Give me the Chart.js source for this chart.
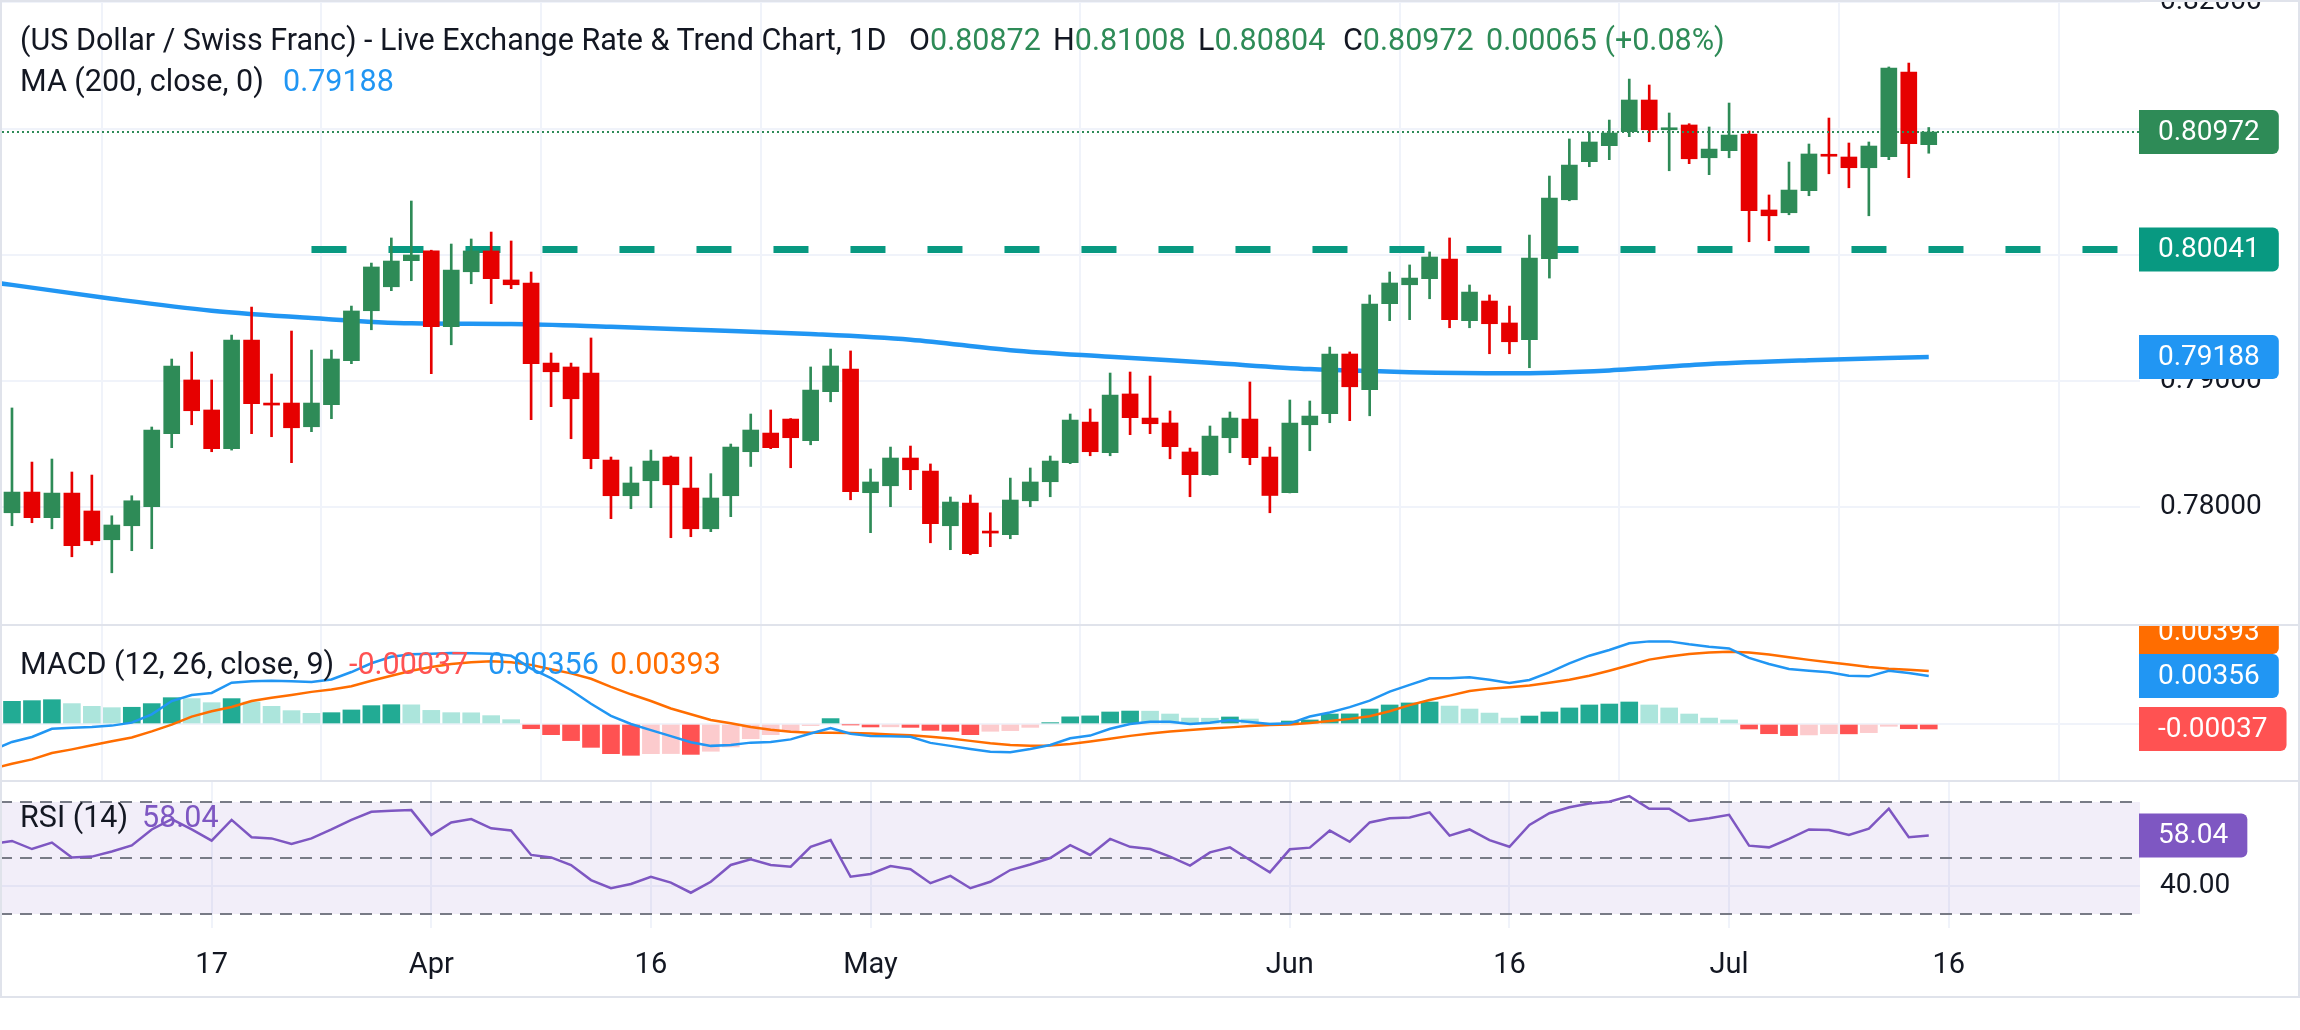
<!DOCTYPE html>
<html><head><meta charset="utf-8">
<script src="https://cdn.jsdelivr.net/npm/chart.js@4.4.1/dist/chart.umd.min.js"></script>
<style>
html,body{margin:0;padding:0;background:#fff;}
body{width:2300px;height:1030px;position:relative;overflow:hidden;font-family:Roboto,sans-serif;}
.pane{position:absolute;left:0;width:2300px;}
.lg{position:absolute;white-space:nowrap;font-size:30.5px;line-height:30px;color:#131722;z-index:5;}
.sep{position:absolute;background:#e0e3eb;z-index:4;}
.gv{color:#2e8b57}
</style></head><body>
<div class="pane" style="top:0;height:626px"><canvas id="cMain"></canvas></div>
<div class="pane" style="top:626px;height:155px"><canvas id="cMacd"></canvas></div>
<div class="pane" style="top:782px;height:215px"><canvas id="cRsi"></canvas></div>

<div class="sep" style="left:0;top:0;width:2300px;height:2px"></div>
<div class="sep" style="left:0;top:624px;width:2300px;height:2px"></div>
<div class="sep" style="left:0;top:780px;width:2300px;height:2px"></div>
<div class="sep" style="left:0;top:996px;width:2300px;height:2px"></div>
<div class="sep" style="left:0;top:0;width:2px;height:998px"></div>
<div class="sep" style="left:2298px;top:0;width:2px;height:998px"></div>

<div class="lg" style="left:20px;top:25px">(US Dollar / Swiss Franc) - Live Exchange Rate &amp; Trend Chart, 1D</div>
<div class="lg" style="left:909px;top:25px">O<span class="gv">0.80872</span></div>
<div class="lg" style="left:1053px;top:25px">H<span class="gv">0.81008</span></div>
<div class="lg" style="left:1198px;top:25px">L<span class="gv">0.80804</span></div>
<div class="lg" style="left:1343px;top:25px">C<span class="gv">0.80972</span></div>
<div class="lg gv" style="left:1486px;top:25px">0.00065 (+0.08%)</div>
<div class="lg" style="left:20px;top:66px">MA (200, close, 0)</div>
<div class="lg" style="left:283px;top:66px;color:#2196f3">0.79188</div>
<div class="lg" style="left:20px;top:649px">MACD (12, 26, close, 9)</div>
<div class="lg" style="left:349px;top:649px;color:#ff5252">-0.00037</div>
<div class="lg" style="left:488px;top:649px;color:#2196f3">0.00356</div>
<div class="lg" style="left:610px;top:649px;color:#ff6d00">0.00393</div>
<div class="lg" style="left:20px;top:802px">RSI (14)</div>
<div class="lg" style="left:142px;top:802px;color:#7e57c2">58.04</div>

<script>
// ---------- DATA ----------
const openP=[.77953,.78117,.77914,.78109,.77967,.77739,.77850,.78001,.78580,.79006,
.78768,.78461,.79323,.78822,.78823,.78635,.78810,.79159,.79555,.79745,
.79952,.80029,.79428,.79864,.80029,.79799,.79775,.79140,.79109,.79061,
.78371,.78088,.78207,.78395,.78149,.77826,.78088,.78437,.78585,.78696,
.78524,.78913,.79093,.78112,.78167,.78387,.78284,.77850,.78030,.77800,
.77779,.78048,.78199,.78350,.78672,.78429,.78895,.78704,.78665,.78435,
.78255,.78548,.78696,.78395,.78112,.78651,.78738,.79212,.78929,.79611,
.79761,.79809,.79965,.79476,.79632,.79458,.79325,.79967,.80435,.80737,
.80864,.80975,.81226,.80990,.81028,.80768,.80824,.80956,.80354,.80332,
.80507,.80790,.80774,.80689,.80776,.81448,.80872];
const highP=[.78784,.78355,.78379,.78276,.78252,.77929,.78088,.78633,.79172,.79228,
.79006,.79362,.79584,.79053,.79394,.79243,.79243,.79592,.79933,.80132,
.80425,.80035,.80084,.80124,.80179,.80108,.79862,.79220,.79140,.79339,
.78395,.78316,.78450,.78403,.78395,.78263,.78498,.78736,.78768,.78700,
.79109,.79251,.79236,.78300,.78474,.78482,.78340,.78078,.78094,.77953,
.78228,.78308,.78403,.78736,.78776,.79061,.79069,.79037,.78760,.78466,
.78641,.78752,.78990,.78474,.78847,.78839,.79267,.79228,.79680,.79862,
.79918,.80021,.80132,.79759,.79680,.79592,.80155,.80623,.80917,.80972,
.81067,.81392,.81345,.81123,.81038,.81012,.81202,.80980,.80473,.80734,
.80877,.81083,.80885,.80893,.81488,.81519,.81008];
const lowP=[.77850,.77874,.77826,.77604,.77699,.77477,.77652,.77668,.78469,.78651,
.78437,.78450,.78580,.78556,.78350,.78596,.78699,.79135,.79404,.79714,
.79793,.79056,.79285,.79769,.79611,.79730,.78691,.78794,.78540,.78302,
.77906,.77985,.77993,.77755,.77763,.77803,.77922,.78320,.78461,.78310,
.78492,.78833,.78056,.77795,.78001,.78136,.77715,.77660,.77620,.77684,
.77747,.78001,.78080,.78342,.78405,.78405,.78572,.78580,.78381,.78080,
.78250,.78429,.78334,.77953,.78110,.78445,.78667,.78683,.78722,.79476,
.79484,.79650,.79420,.79420,.79214,.79214,.79103,.79814,.80427,.80697,
.80753,.80935,.80895,.80665,.80721,.80634,.80768,.80102,.80110,.80316,
.80467,.80641,.80530,.80308,.80753,.80610,.80804];
const closeP=[.78117,.77914,.78109,.77692,.77731,.77856,.78048,.78609,.79117,.78762,
.78461,.79323,.78818,.78807,.78627,.78823,.79172,.79553,.79902,.79949,
.79997,.79428,.79878,.80029,.79809,.79761,.79135,.79071,.78857,.78381,
.78088,.78189,.78363,.78175,.77826,.78070,.78474,.78609,.78469,.78548,
.78926,.79117,.78120,.78197,.78387,.78294,.77866,.78038,.77628,.77792,
.78054,.78197,.78363,.78688,.78437,.78887,.78707,.78659,.78477,.78255,
.78561,.78704,.78390,.78090,.78665,.78720,.79212,.78952,.79608,.79775,
.79814,.79981,.79484,.79703,.79452,.79309,.79973,.80449,.80710,.80893,
.80964,.81226,.80990,.81000,.80760,.80837,.80948,.80348,.80308,.80512,
.80798,.80780,.80689,.80861,.81480,.80880,.80972];

const maIdx=[-1,0,5,10,15,20,25,30,35,40,45,50,55,60,65,70,75,80,85,90,96];
const maVal=[.79780,.79760,.79650,.79555,.79497,.79455,.79450,.79428,.79400,.79370,.79325,.79242,.79190,.79142,.79092,.79068,.79059,.79082,.79132,.79162,.79188];

const supportLevel=0.80041, supportFrom=15;

const LINE_START=-1; // first index of macdLine / signalLine / rsi
const macdLine=[-0.00195,
-0.00133,-0.00096,-0.00035,-0.00027,-0.00022,-0.00012,0.00010,0.00072,0.00170,0.00215,
0.00230,0.00306,0.00316,0.00321,0.00316,0.00311,0.00330,0.00385,0.00450,0.00498,
0.00516,0.00520,0.00526,0.00524,0.00520,0.00505,0.00410,0.00340,0.00250,0.00150,
0.00060,0.00000,-0.00045,-0.00090,-0.00135,-0.00162,-0.00155,-0.00138,-0.00133,-0.00114,
-0.00070,-0.00030,-0.00072,-0.00089,-0.00090,-0.00095,-0.00140,-0.00162,-0.00185,-0.00205,
-0.00210,-0.00185,-0.00155,-0.00106,-0.00086,-0.00035,0.00000,0.00017,0.00017,0.00000,
0.00010,0.00030,0.00014,0.00000,0.00005,0.00055,0.00085,0.00125,0.00173,0.00240,
0.00290,0.00338,0.00338,0.00346,0.00328,0.00304,0.00326,0.00383,0.00449,0.00506,
0.00548,0.00598,0.00612,0.00612,0.00590,0.00573,0.00560,0.00490,0.00444,0.00407,
0.00395,0.00383,0.00358,0.00353,0.00395,0.00378,0.00356];
const signalLine=[-0.00330,
-0.00295,-0.00262,-0.00215,-0.00188,-0.00158,-0.00128,-0.00100,-0.00055,-0.00005,0.00055,
0.00095,0.00126,0.00170,0.00195,0.00215,0.00238,0.00255,0.00280,0.00320,0.00358,
0.00395,0.00422,0.00445,0.00458,0.00464,0.00458,0.00438,0.00405,0.00375,0.00335,
0.00275,0.00220,0.00170,0.00115,0.00072,0.00030,0.00005,-0.00022,-0.00042,-0.00057,
-0.00064,-0.00064,-0.00066,-0.00070,-0.00078,-0.00084,-0.00095,-0.00108,-0.00125,-0.00142,
-0.00155,-0.00162,-0.00160,-0.00148,-0.00130,-0.00110,-0.00088,-0.00070,-0.00055,-0.00044,
-0.00033,-0.00025,-0.00015,-0.00008,-0.00003,0.00007,0.00022,0.00038,0.00058,0.00095,
0.00140,0.00178,0.00210,0.00245,0.00262,0.00272,0.00285,0.00305,0.00328,0.00358,
0.00395,0.00435,0.00477,0.00500,0.00519,0.00530,0.00536,0.00530,0.00515,0.00494,
0.00475,0.00457,0.00440,0.00422,0.00410,0.00402,0.00393];
const macdHist=[0.00168,0.00173,0.00180,0.00151,0.00131,0.00121,0.00124,0.00151,0.00195,0.00188,
0.00158,0.00188,0.00163,0.00131,0.00099,0.00079,0.00084,0.00104,0.00136,0.00143,
0.00142,0.00101,0.00084,0.00083,0.00062,0.00032,-0.00035,-0.00079,-0.00123,-0.00173,
-0.00220,-0.00232,-0.00220,-0.00219,-0.00225,-0.00202,-0.00170,-0.00109,-0.00079,-0.00054,
-0.00012,0.00040,-0.00005,-0.00022,-0.00021,-0.00025,-0.00047,-0.00054,-0.00079,-0.00054,
-0.00049,-0.00025,0.00010,0.00053,0.00060,0.00089,0.00096,0.00095,0.00074,0.00044,
0.00043,0.00052,0.00037,0.00005,0.00022,0.00030,0.00074,0.00075,0.00111,0.00141,
0.00156,0.00163,0.00133,0.00111,0.00081,0.00044,0.00059,0.00089,0.00119,0.00141,
0.00148,0.00163,0.00141,0.00119,0.00074,0.00044,0.00030,-0.00037,-0.00072,-0.00086,
-0.00081,-0.00072,-0.00073,-0.00064,-0.00017,-0.00035,-0.00037];
const rsi=[55.0,
56.1,53.2,55.5,50.2,50.5,52.3,54.5,60.2,63.9,60.2,
56.2,63.6,57.4,57.0,55.0,57.0,60.2,63.6,66.5,66.9,
67.1,58.2,62.7,63.9,60.6,59.8,51.1,50.2,47.5,42.1,
39.2,40.7,43.3,41.2,37.6,41.5,47.5,49.5,47.5,46.9,
54.0,56.4,43.3,44.3,47.1,46.0,41.0,43.6,39.2,41.5,
45.7,47.7,50.0,54.6,51.1,56.8,54.0,53.2,50.5,47.3,
52.0,53.8,49.3,44.9,53.1,53.7,59.8,55.8,62.7,64.2,
64.5,66.3,58.0,60.2,56.4,54.0,61.8,66.0,68.1,69.5,
70.1,72.1,67.6,67.6,63.2,64.2,65.4,54.4,53.8,56.8,
60.2,60.0,58.2,60.5,67.6,57.4,58.04];
const rsiLevels=[70,50,30];
const rsiTicks=[40];
const priceTicks=[0.78,0.79,0.80,0.81,0.82];
const xTickIdx=[10,21,32,43,64,75,86,97];
const xTickLabels=['17','Apr','16','May','Jun','16','Jul','16'];

// ---------- VIEW ----------
const X_MIN=-0.5, X_MAX=106.58;
const PRICE_MIN=0.77055, PRICE_MAX=0.82019;
const MACD_MIN=-0.0042222, MACD_MAX=0.0072593;
const RSI_MIN=25, RSI_MAX=77.143;
const GREEN='#2e8b57', RED='#e60000', TEAL='#089981', BLUE='#2196f3', ORANGE='#ff6d00', PURPLE='#7e57c2';
const FONT='Roboto';
const GRID='#f0f3fa';

Chart.defaults.animation=false;
Chart.defaults.font.family=FONT;

const idx=openP.map((_,i)=>i);
const candleColors=idx.map(i=>closeP[i]>=openP[i]?GREEN:RED);
const histColors=macdHist.map((v,i)=>{const rising=i===0?true:v>macdHist[i-1];return v>=0?(rising?'#22ab94':'#ace5dc'):(rising?'#fccbcd':'#ff5252');});
const lineData=arr=>arr.map((v,i)=>({x:i+LINE_START,y:v}));

const badgePlugin={id:'badges',afterDraw(chart,args,opts){
  const items=opts.items||[]; if(!items.length)return;
  const ctx=chart.ctx, ys=chart.scales.y, H=44;
  ctx.save(); ctx.font='28px '+FONT; ctx.textBaseline='middle'; ctx.textAlign='left';
  const list=items.map(it=>({...it,y:ys.getPixelForValue(it.value)})).sort((a,b)=>b.y-a.y);
  for(let i=1;i<list.length;i++){ if(list[i-1].y-list[i].y<H) list[i].y=list[i-1].y-H; }
  const x=chart.chartArea.right-1;
  for(const it of list){
    const w=ctx.measureText(it.text).width+38;
    ctx.fillStyle=it.color; ctx.beginPath(); ctx.roundRect(x,it.y-H/2,w,H,[0,6,6,0]); ctx.fill();
    ctx.fillStyle='#fff'; ctx.fillText(it.text,x+19,it.y+1);
  }
  ctx.restore();
}};
const rsiBandPlugin={id:'rsiBand',beforeDatasetsDraw(chart,args,opts){
  if(!opts.on)return;
  const ctx=chart.ctx, ca=chart.chartArea, y=chart.scales.y;
  const yT=y.getPixelForValue(rsiLevels[0]), yB=y.getPixelForValue(rsiLevels[2]);
  ctx.save(); ctx.fillStyle='rgba(126,87,194,0.1)'; ctx.fillRect(0,yT,ca.right,yB-yT);
  ctx.strokeStyle='#787b86'; ctx.lineWidth=2; ctx.setLineDash([12,8]);
  for(const lv of rsiLevels){const yy=Math.round(y.getPixelForValue(lv));ctx.beginPath();ctx.moveTo(0,yy);ctx.lineTo(ca.right,yy);ctx.stroke();}
  ctx.restore();
}};
const zeroPad=s=>{s.paddingTop=0;s.paddingBottom=0;s.paddingLeft=0;s.paddingRight=0;};

function xScale(showLabels){
  return {type:'linear',min:X_MIN,max:X_MAX,offset:false,
    grid:{color:GRID,lineWidth:2,drawTicks:false},border:{display:false},
    ticks:{display:showLabels,autoSkip:false,maxRotation:0,padding:20,color:'#131722',font:{family:FONT,size:29},
      callback:(v,i)=>xTickLabels[i]},
    afterBuildTicks:s=>{s.ticks=xTickIdx.map(v=>({value:v}));},
    afterFit:s=>{s.height=showLabels?69:0;zeroPad(s);}};
}
function yScale(min,max,ticks,fmt){
  return {position:'right',min,max,
    grid:{color:GRID,lineWidth:2,drawTicks:false},border:{display:false},
    ticks:{display:!!fmt,padding:20,color:'#131722',font:{family:FONT,size:28},callback:v=>fmt?fmt(v):''},
    afterBuildTicks:s=>{s.ticks=ticks.map(v=>({value:v}));},
    afterFit:s=>{s.width=160;zeroPad(s);}};
}
const baseOpts=(scales,plugins)=>({responsive:true,maintainAspectRatio:false,devicePixelRatio:1,
  layout:{padding:{left:2,right:0,top:0,bottom:0}},scales,
  plugins:Object.assign({legend:{display:false},tooltip:{enabled:false}},plugins)});

// ---------- MAIN ----------
new Chart(document.getElementById('cMain'),{
  type:'bar',
  data:{datasets:[
    {type:'line',data:maIdx.map((k,i)=>({x:k,y:maVal[i]})),borderColor:BLUE,borderWidth:4.5,pointRadius:0,cubicInterpolationMode:'monotone',order:6},
    {type:'line',data:[{x:supportFrom,y:supportLevel},{x:X_MAX,y:supportLevel}],borderColor:TEAL,borderWidth:7,borderDash:[35,42],pointRadius:0,order:5},
    {type:'line',data:[{x:X_MIN,y:closeP[closeP.length-1]},{x:X_MAX,y:closeP[closeP.length-1]}],borderColor:GREEN,borderWidth:2,borderDash:[2,3],pointRadius:0,order:0},
    {data:idx.map(i=>({x:i,y:[lowP[i],highP[i]]})),backgroundColor:candleColors,barThickness:2,grouped:false,order:2},
    {data:idx.map(i=>({x:i,y:[openP[i],closeP[i]]})),backgroundColor:candleColors,barThickness:16,minBarLength:2,grouped:false,order:1}
  ]},
  options:baseOpts({x:xScale(false),y:yScale(PRICE_MIN,PRICE_MAX,priceTicks,v=>v.toFixed(5))},
    {badges:{items:[
      {value:closeP[closeP.length-1],color:GREEN,text:closeP[closeP.length-1].toFixed(5)},
      {value:supportLevel,color:TEAL,text:supportLevel.toFixed(5)},
      {value:maVal[maVal.length-1],color:BLUE,text:maVal[maVal.length-1].toFixed(5)}]}}),
  plugins:[badgePlugin]
});

// ---------- MACD ----------
const mL=macdLine[macdLine.length-1], sL=signalLine[signalLine.length-1], hL=macdHist[macdHist.length-1];
new Chart(document.getElementById('cMacd'),{
  type:'bar',
  data:{datasets:[
    {type:'line',data:lineData(macdLine),borderColor:BLUE,borderWidth:2.5,pointRadius:0,order:0},
    {type:'line',data:lineData(signalLine),borderColor:ORANGE,borderWidth:2.5,pointRadius:0,order:1},
    {data:macdHist.map((v,i)=>({x:i,y:v})),backgroundColor:histColors,barThickness:17,grouped:false,order:2}
  ]},
  options:baseOpts({x:xScale(false),y:yScale(MACD_MIN,MACD_MAX,[0],null)},
    {badges:{items:[
      {value:sL,color:ORANGE,text:sL.toFixed(5)},
      {value:mL,color:BLUE,text:mL.toFixed(5)},
      {value:hL,color:'#ff5252',text:hL.toFixed(5)}]}}),
  plugins:[badgePlugin]
});

// ---------- RSI ----------
const rL=rsi[rsi.length-1];
new Chart(document.getElementById('cRsi'),{
  type:'line',
  data:{datasets:[
    {data:lineData(rsi),borderColor:PURPLE,borderWidth:2.5,pointRadius:0}
  ]},
  options:baseOpts({x:xScale(true),y:yScale(RSI_MIN,RSI_MAX,rsiTicks,v=>v.toFixed(2))},
    {rsiBand:{on:true},badges:{items:[{value:rL,color:PURPLE,text:rL.toFixed(2)}]}}),
  plugins:[rsiBandPlugin,badgePlugin]
});
</script>
</body></html>
